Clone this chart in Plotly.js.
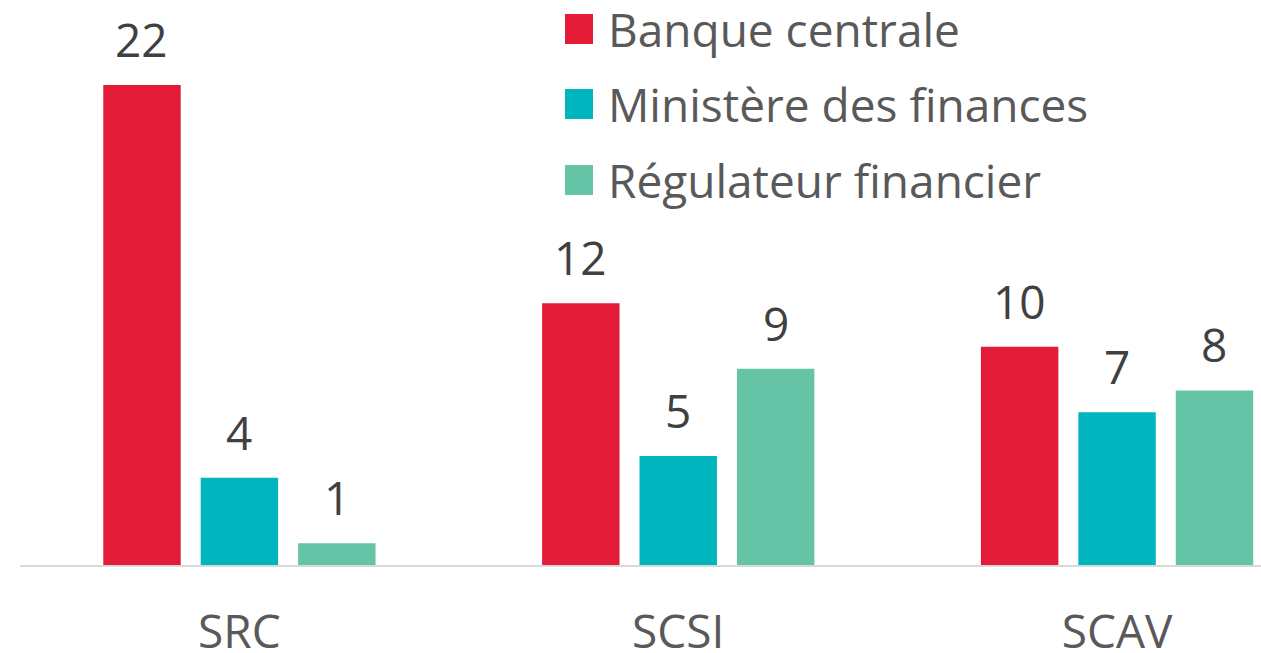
<!DOCTYPE html>
<html>
<head>
<meta charset="utf-8">
<script src="https://cdn.plot.ly/plotly-3.0.1.min.js"></script>
<style>html,body{margin:0;padding:0;background:#fff}#chart{width:1261px;height:653px}</style>
</head>
<body>
<div id="chart"></div>
<script>
var categories = ["SRC", "SCSI", "SCAV"];
var seriesNames = ["Banque centrale", "Ministère des finances", "Régulateur financier"];
var banqueCentrale = [22, 12, 10];
var ministereFinances = [4, 5, 7];
var regulateurFinancier = [1, 9, 8];
var seriesValues = [banqueCentrale, ministereFinances, regulateurFinancier];
var colors = ["#E31B36", "#00B5BD", "#64C4A5"];

var W = 1261, H = 653, ML = 20, MR = 0, MT = 0, MB = 88;
var FONT = "'Open Sans', sans-serif";

var traces = seriesValues.map(function (vals, i) {
  return {
    type: "bar",
    name: seriesNames[i],
    x: categories,
    y: vals,
    marker: { color: colors[i] },
    showlegend: false,
    hoverinfo: "skip"
  };
});

var annotations = [];
var nS = seriesValues.length;
var bargap = 0.334, bargroupgap = 0.205;
seriesValues.forEach(function (vals, i) {
  vals.forEach(function (v, j) {
    var slot = (1 - bargap) / nS;
    var off = -(1 - bargap) / 2 + slot * (i + 0.5);
    annotations.push({
      x: j + off, y: v, xref: "x", yref: "y",
      text: String(v), showarrow: false,
      yanchor: "bottom", yshift: 13,
      font: { family: FONT, size: 46, color: "#404040" }
    });
  });
});

// legend drawn as shapes + text
var plotW = W - ML - MR, plotH = H - MT - MB;
var shapes = [];
var legendY = [29, 104, 180];
seriesNames.forEach(function (name, i) {
  var cy = legendY[i];
  shapes.push({
    type: "rect", xref: "paper", yref: "paper",
    x0: (565 - ML) / plotW, x1: (593 - ML) / plotW,
    y0: (plotH + MT - (cy + 15)) / plotH, y1: (plotH + MT - (cy - 15)) / plotH,
    fillcolor: colors[i], line: { width: 0 }
  });
  annotations.push({
    x: (606 - ML) / plotW, y: (plotH + MT - cy) / plotH,
    xref: "paper", yref: "paper", xanchor: "left", yanchor: "middle",
    text: name, showarrow: false,
    font: { family: FONT, size: 46, color: "#595959" }
  });
});

var layout = {
  width: W, height: H,
  margin: { l: ML, r: MR, t: MT, b: MB, pad: 0 },
  paper_bgcolor: "#ffffff", plot_bgcolor: "#ffffff",
  barmode: "group", bargap: bargap, bargroupgap: bargroupgap,
  xaxis: {
    type: "category", range: [-0.5, 2.328],
    showline: true, linecolor: "#d9d9d9", linewidth: 2,
    ticks: "", showgrid: false, zeroline: false,
    ticklabelstandoff: 26,
    tickfont: { family: FONT, size: 46, color: "#595959" },
    fixedrange: true
  },
  yaxis: {
    range: [0, 25.9], visible: false, showgrid: false, zeroline: false, fixedrange: true
  },
  shapes: shapes,
  annotations: annotations,
  showlegend: false
};

Plotly.newPlot("chart", traces, layout, { displayModeBar: false, staticPlot: true });
</script>
</body>
</html>
